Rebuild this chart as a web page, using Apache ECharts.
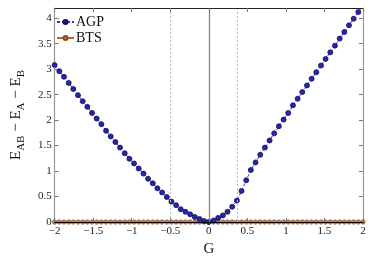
<!DOCTYPE html>
<html><head><meta charset="utf-8">
<script src="https://cdn.jsdelivr.net/npm/echarts@6/dist/echarts.min.js"></script>
<style>html,body{margin:0;padding:0;background:#fff}#c{width:374px;height:262px}</style>
</head><body><div id="c"></div>
<script>
var gValues = [-2, -1.939, -1.879, -1.818, -1.758, -1.697, -1.636, -1.576, -1.515, -1.455, -1.394, -1.333, -1.273, -1.212, -1.152, -1.091, -1.030, -0.970, -0.909, -0.848, -0.788, -0.727, -0.667, -0.606, -0.545, -0.485, -0.424, -0.364, -0.303, -0.242, -0.182, -0.121, -0.061, 0,
  0.061, 0.121, 0.182, 0.242, 0.303, 0.364, 0.424, 0.485, 0.545, 0.606, 0.667, 0.727, 0.788, 0.848, 0.909, 0.970, 1.030, 1.091, 1.152, 1.212, 1.273, 1.333, 1.394, 1.455, 1.515, 1.576, 1.636, 1.697, 1.758, 1.818, 1.879, 1.939, 2.0];
var agpValues = [3.08, 2.96, 2.85, 2.73, 2.61, 2.49, 2.37, 2.26, 2.14, 2.03, 1.92, 1.79, 1.68, 1.57, 1.46, 1.35, 1.24, 1.15, 1.05, 0.95, 0.85, 0.76, 0.66, 0.58, 0.49, 0.40, 0.33, 0.25, 0.20, 0.15, 0.10, 0.06, 0.02, 0,
  0.03, 0.08, 0.13, 0.20, 0.30, 0.42, 0.61, 0.82, 1.02, 1.17, 1.32, 1.46, 1.60, 1.74, 1.88, 2.01, 2.14, 2.29, 2.42, 2.55, 2.68, 2.81, 2.94, 3.07, 3.20, 3.33, 3.46, 3.60, 3.73, 3.86, 3.99, 4.12, 4.25];
var btsValues = [0,0,0,0,0,0,0,0,0,0,0,0,0,0,0,0,0,0,0,0,0,0,0,0,0,0,0,0,0,0,0,0,0,0,
  0,0,0,0,0,0,0,0,0,0,0,0,0,0,0,0,0,0,0,0,0,0,0,0,0,0,0,0,0,0,0,0,0];
var markPositions = [-0.5, 0.37];
var zeroLine = 0;

var serif = '"Liberation Serif", "DejaVu Serif", serif';
function pairs(ys){ return gValues.map(function(g,i){ return [g, ys[i]]; }); }
function fmt(v){ return String(v).replace('-', '\u2212'); }

var chart = echarts.init(document.getElementById('c'), null, {renderer:'canvas'});
chart.setOption({
  animation:false,
  backgroundColor:'#fff',
  grid:{left:43, right:11, top:8, bottom:38, containLabel:false},
  legend:{
    left:51, top:10, orient:'vertical', itemGap:2, itemWidth:17, itemHeight:5,
    textStyle:{fontFamily:serif, fontSize:14, color:'#111', padding:[0,0,0,-3]},
    data:['AGP','BTS']
  },
  xAxis:[{
    type:'value', min:-2, max:2, interval:0.5, position:'bottom', z:10,
    name:'G', nameLocation:'middle', nameGap:20,
    nameTextStyle:{fontFamily:serif, fontSize:15, color:'#111'},
    axisLine:{show:true, onZero:false, lineStyle:{color:'#000', width:1.2}},
    axisTick:{inside:true, length:4, lineStyle:{color:'#777'}},
    axisLabel:{fontFamily:serif, fontSize:11, color:'#222', margin:4, formatter:fmt},
    splitLine:{show:false}
  },{
    type:'value', min:-2, max:2, interval:0.5, position:'top', z:10,
    axisLine:{show:true, onZero:false, lineStyle:{color:'#222', width:1}},
    axisTick:{inside:true, length:4, lineStyle:{color:'#777'}},
    axisLabel:{show:false}, splitLine:{show:false}
  }],
  yAxis:[{
    type:'value', min:0, max:4.2, interval:0.5, position:'left',
    name:'{m|E}{s|AB}{m| \u2212 E}{s|A}{m| \u2212 E}{s|B}',
    nameLocation:'middle', nameGap:27, nameRotate:90,
    nameTextStyle:{fontFamily:serif, color:'#111',
      rich:{
        m:{fontFamily:serif, fontSize:15, color:'#111', lineHeight:22, verticalAlign:'middle'},
        s:{fontFamily:serif, fontSize:11, color:'#111', lineHeight:22, verticalAlign:'bottom', padding:[8,0,0,0]}
      }},
    axisLine:{show:true, onZero:false, lineStyle:{color:'#999', width:1.2}},
    axisTick:{inside:true, length:4, lineStyle:{color:'#777'}},
    axisLabel:{fontFamily:serif, fontSize:11, color:'#222', margin:3,
      formatter:function(v){ return v > 4.1 ? '' : String(v); }},
    splitLine:{show:false}
  },{
    type:'value', min:0, max:4.2, interval:0.5, position:'right',
    axisLine:{show:true, onZero:false, lineStyle:{color:'#999', width:1.2}},
    axisTick:{inside:true, length:4, lineStyle:{color:'#777'}},
    axisLabel:{show:false}, splitLine:{show:false}
  }],
  series:[{
    name:'AGP', type:'line', data:pairs(agpValues), z:4,
    symbol:'circle', symbolSize:5,
    itemStyle:{color:'#2626a8', borderColor:'#10105a', borderWidth:0.8},
    lineStyle:{color:'#3535c0', width:1, type:[3,2]},
    markLine:{
      silent:true, symbol:'none', label:{show:false}, animation:false,
      data:[
        {xAxis:zeroLine, lineStyle:{color:'#888', width:1.3, type:'solid'}},
        {xAxis:markPositions[0], lineStyle:{color:'#bbb', width:1, type:[2,2]}},
        {xAxis:markPositions[1], lineStyle:{color:'#bbb', width:1, type:[2,2]}}
      ]
    }
  },{
    name:'BTS', type:'line', data:pairs(btsValues), z:3,
    symbol:'circle', symbolSize:4.5,
    itemStyle:{color:'#d0804a', borderColor:'#8a4a20', borderWidth:0.6},
    lineStyle:{color:'#b8662e', width:1.2}
  }]
});
</script></body></html>
